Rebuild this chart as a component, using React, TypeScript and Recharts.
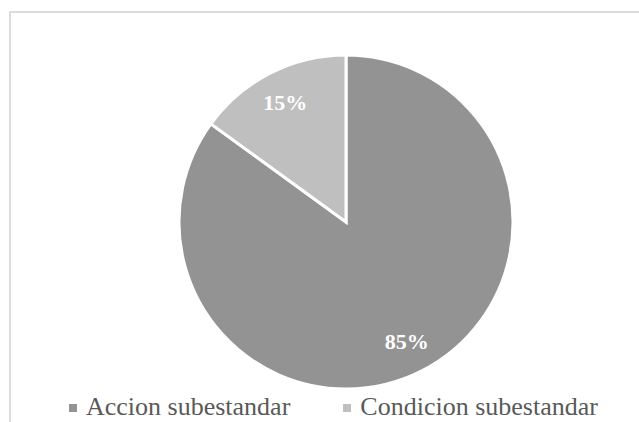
import { Cell, Legend, Pie, PieChart } from "recharts";

const categories = ["Accion subestandar", "Condicion subestandar"];
const shares = [85, 15];
const colors = ["#939393", "#bfbfbf"];

const data = categories.map((name, i) => ({ name, value: shares[i] }));

const RADIAN = Math.PI / 180;

function renderLabel(props: any) {
  const { cx, cy, midAngle, outerRadius, value } = props;
  const r = outerRadius * 0.8;
  const x = cx + r * Math.cos(-midAngle * RADIAN);
  const y = cy + r * Math.sin(-midAngle * RADIAN);
  return (
    <text
      x={x}
      y={y}
      fill="#ffffff"
      textAnchor="middle"
      dominantBaseline="central"
      fontFamily="'Liberation Serif', 'Times New Roman', serif"
      fontWeight="bold"
      fontSize={22}
    >
      {`${value}%`}
    </text>
  );
}

function renderLegend() {
  return (
    <div
      style={{
        display: "flex",
        paddingLeft: 69,
        fontFamily: "'Liberation Serif', 'Times New Roman', serif",
        fontSize: 26,
        color: "#595959",
        lineHeight: "30px",
      }}
    >
      {categories.map((name, i) => (
        <div
          key={name}
          style={{ display: "flex", alignItems: "center", marginRight: i === 0 ? 53 : 0 }}
        >
          <span
            style={{
              display: "inline-block",
              width: 8,
              height: 8,
              background: colors[i],
              marginRight: 9,
              marginTop: 2,
            }}
          />
          <span>{name}</span>
        </div>
      ))}
    </div>
  );
}

export default function App() {
  return (
    <div
      style={{
        position: "fixed",
        left: 0,
        top: 0,
        width: 639,
        height: 422,
        overflow: "hidden",
        background: "#ffffff",
      }}
    >
      <div
        style={{
          position: "absolute",
          left: 9,
          top: 11,
          width: 700,
          height: 500,
          border: "2px solid #dcdcdc",
          boxSizing: "border-box",
        }}
      />
      <div style={{ position: "absolute", left: 0, top: 0 }}>
        <PieChart width={639} height={422} margin={{ top: 0, right: 0, bottom: 0, left: 0 }}>
          <Pie
            data={data}
            dataKey="value"
            nameKey="name"
            cx={346}
            cy={222}
            outerRadius={167}
            startAngle={90}
            endAngle={-270}
            stroke="#ffffff"
            strokeWidth={3}
            label={renderLabel}
            labelLine={false}
            isAnimationActive={false}
          >
            {data.map((d, i) => (
              <Cell key={d.name} fill={colors[i]} />
            ))}
          </Pie>
          <Legend
            content={renderLegend}
            wrapperStyle={{ position: "absolute", left: 0, top: 392, width: 639 }}
          />
        </PieChart>
      </div>
    </div>
  );
}
